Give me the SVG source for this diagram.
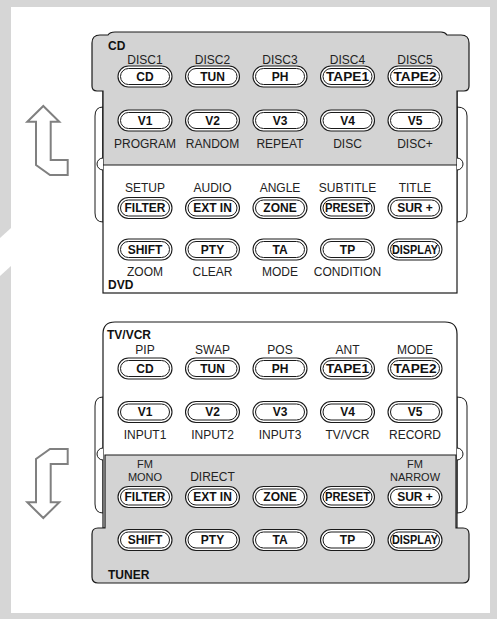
<svg xmlns="http://www.w3.org/2000/svg" width="497" height="619" viewBox="0 0 497 619">
<style>
.frame{fill:#d6d6d6}
.body{fill:#fff;stroke:#1a1a1a;stroke-width:1.2}
.gray{fill:#d3d3d3;stroke:#1a1a1a;stroke-width:1.2}
.brk{fill:#fff;stroke:#1a1a1a;stroke-width:1}
.po{fill:#fff;stroke:#1a1a1a;stroke-width:1.1}
.pi{fill:#fff;stroke:#1a1a1a;stroke-width:1}
.bt{font-family:"Liberation Sans",Arial,sans-serif;font-weight:bold;font-size:12px;fill:#111;text-anchor:middle}
.lb{font-family:"Liberation Sans",Arial,sans-serif;font-size:12px;fill:#222;text-anchor:middle}
.sm{font-family:"Liberation Sans",Arial,sans-serif;font-size:11px;fill:#222;text-anchor:middle}
.hd{font-family:"Liberation Sans",Arial,sans-serif;font-weight:bold;font-size:12px;fill:#111}
.arw{fill:#fff;stroke:#808080;stroke-width:2;stroke-linejoin:miter}
</style>
<defs>
<g id="pill">
<rect class="po" x="-27" y="-10.5" width="54" height="21" rx="10.5"/>
<rect class="pi" x="-24.5" y="-8" width="49" height="16" rx="8"/>
</g>
</defs>
<rect width="497" height="619" fill="#fff"/>
<!-- page frame -->
<g id="frame">
<rect class="frame" x="0" y="0" width="497" height="7"/>
<rect class="frame" x="490" y="0" width="7" height="619"/>
<rect class="frame" x="0" y="613" width="497" height="6"/>
<polygon class="frame" points="0,0 11,0 11,228 0,238"/>
<polygon class="frame" points="0,276 11,266 11,619 0,619"/>
</g>
<!-- arrows -->
<g id="arrow-up">
<polygon class="arw" points="43.3,106 59.3,121.7 50.7,121.7 50.7,160 67.7,160 67.7,175 50,175 36,165 36,121.7 27.3,121.7"/>
</g>
<g id="arrow-down" transform="translate(0,624) scale(1,-1)">
<polygon class="arw" points="43.3,106 59.3,121.7 50.7,121.7 50.7,160 67.7,160 67.7,175 50,175 36,165 36,121.7 27.3,121.7"/>
</g>
<!-- top remote CD/DVD -->
<g id="remote-top">
<path class="brk" d="M103,107 Q95,107 95,116 L95,213 Q95,222 103,222 Z"/>
<path class="brk" d="M457,107 Q467,107 467,116 L467,213 Q467,222 457,222 Z"/>
<rect class="body" x="103" y="91" width="354" height="202"/>
<path class="gray" d="M92,86 L92,43 Q92,35 100,35 L108,35 Q110,32 115,32 L441,32 Q445,32 447,35 L461,35 Q469,35 469,43 L469,86 Q469,91 464,91 L457,91 L457,165 L103,165 L103,91 L97,91 Q92,91 92,86 Z"/>
<path class="brk" d="M103,158 A6,6 0 0 0 103,170"/>
<path class="brk" d="M457,158 A6,6 0 0 1 457,170"/>
<text class="hd" x="108" y="50">CD</text>
<text class="hd" x="108" y="289">DVD</text>
</g>
<!-- bottom remote TV/VCR / TUNER -->
<g id="remote-bottom">
<path class="brk" d="M103,397 Q95,397 95,406 L95,504 Q95,513 103,513 Z"/>
<path class="brk" d="M457,397 Q467,397 467,406 L467,504 Q467,513 457,513 Z"/>
<path class="body" d="M103,528 L103,334 Q103,322 115,322 L445,322 Q457,322 457,334 L457,528 Z"/>
<path class="gray" d="M105,455 L456,455 L456,528 L463,528 Q469,528 469,534 L469,577 Q469,583 463,583 L98,583 Q92,583 92,577 L92,534 Q92,528 98,528 L105,528 Z"/>
<path class="brk" d="M103,448 A6,6 0 0 0 103,460"/>
<path class="brk" d="M457,448 A6,6 0 0 1 457,460"/>
<text class="hd" x="107" y="339">TV/VCR</text>
<text class="hd" x="108" y="579">TUNER</text>
</g>
<!-- top buttons -->
<g id="top-labels">
<text class="lb" x="145" y="64">DISC1</text><text class="lb" x="212.5" y="64">DISC2</text><text class="lb" x="280" y="64">DISC3</text><text class="lb" x="347.5" y="64">DISC4</text><text class="lb" x="415" y="64">DISC5</text>
<text class="lb" x="145" y="148">PROGRAM</text><text class="lb" x="212.5" y="148">RANDOM</text><text class="lb" x="280" y="148">REPEAT</text><text class="lb" x="347.5" y="148">DISC</text><text class="lb" x="415" y="148">DISC+</text>
<text class="lb" x="145" y="192">SETUP</text><text class="lb" x="212.5" y="192">AUDIO</text><text class="lb" x="280" y="192">ANGLE</text><text class="lb" x="347.5" y="192">SUBTITLE</text><text class="lb" x="415" y="192">TITLE</text>
<text class="lb" x="145" y="276">ZOOM</text><text class="lb" x="212.5" y="276">CLEAR</text><text class="lb" x="280" y="276">MODE</text><text class="lb" x="347.5" y="276">CONDITION</text>
</g>
<g id="btn-t-cd" transform="translate(145,76.5)"><use href="#pill"/><text class="bt" y="4.3">CD</text></g>
<g id="btn-t-tun" transform="translate(212.5,76.5)"><use href="#pill"/><text class="bt" y="4.3">TUN</text></g>
<g id="btn-t-ph" transform="translate(280,76.5)"><use href="#pill"/><text class="bt" y="4.3">PH</text></g>
<g id="btn-t-tape1" transform="translate(347.5,76.5)"><use href="#pill"/><text class="bt" y="4.3" textLength="43" lengthAdjust="spacingAndGlyphs">TAPE1</text></g>
<g id="btn-t-tape2" transform="translate(415,76.5)"><use href="#pill"/><text class="bt" y="4.3" textLength="43" lengthAdjust="spacingAndGlyphs">TAPE2</text></g>
<g id="btn-t-v1" transform="translate(145,120.5)"><use href="#pill"/><text class="bt" y="4.3">V1</text></g>
<g id="btn-t-v2" transform="translate(212.5,120.5)"><use href="#pill"/><text class="bt" y="4.3">V2</text></g>
<g id="btn-t-v3" transform="translate(280,120.5)"><use href="#pill"/><text class="bt" y="4.3">V3</text></g>
<g id="btn-t-v4" transform="translate(347.5,120.5)"><use href="#pill"/><text class="bt" y="4.3">V4</text></g>
<g id="btn-t-v5" transform="translate(415,120.5)"><use href="#pill"/><text class="bt" y="4.3">V5</text></g>
<g id="btn-t-filter" transform="translate(145,208)"><use href="#pill"/><text class="bt" y="4.3" textLength="41" lengthAdjust="spacingAndGlyphs">FILTER</text></g>
<g id="btn-t-extin" transform="translate(212.5,208)"><use href="#pill"/><text class="bt" y="4.3">EXT IN</text></g>
<g id="btn-t-zone" transform="translate(280,208)"><use href="#pill"/><text class="bt" y="4.3">ZONE</text></g>
<g id="btn-t-preset" transform="translate(347.5,208)"><use href="#pill"/><text class="bt" y="4.3" textLength="45" lengthAdjust="spacingAndGlyphs">PRESET</text></g>
<g id="btn-t-sur" transform="translate(415,208)"><use href="#pill"/><text class="bt" y="4.3">SUR +</text></g>
<g id="btn-t-shift" transform="translate(145,249.5)"><use href="#pill"/><text class="bt" y="4.3">SHIFT</text></g>
<g id="btn-t-pty" transform="translate(212.5,249.5)"><use href="#pill"/><text class="bt" y="4.3">PTY</text></g>
<g id="btn-t-ta" transform="translate(280,249.5)"><use href="#pill"/><text class="bt" y="4.3">TA</text></g>
<g id="btn-t-tp" transform="translate(347.5,249.5)"><use href="#pill"/><text class="bt" y="4.3">TP</text></g>
<g id="btn-t-display" transform="translate(415,249.5)"><use href="#pill"/><text class="bt" y="4.3" textLength="46" lengthAdjust="spacingAndGlyphs">DISPLAY</text></g>
<!-- bottom buttons -->
<g id="bottom-labels">
<text class="lb" x="145" y="353.5">PIP</text><text class="lb" x="212.5" y="353.5">SWAP</text><text class="lb" x="280" y="353.5">POS</text><text class="lb" x="347.5" y="353.5">ANT</text><text class="lb" x="415" y="353.5">MODE</text>
<text class="lb" x="145" y="439">INPUT1</text><text class="lb" x="212.5" y="439">INPUT2</text><text class="lb" x="280" y="439">INPUT3</text><text class="lb" x="347.5" y="439">TV/VCR</text><text class="lb" x="415" y="439">RECORD</text>
<text class="sm" x="145" y="468">FM</text><text class="sm" x="145" y="481">MONO</text>
<text class="lb" x="212.5" y="481">DIRECT</text>
<text class="sm" x="415" y="468">FM</text><text class="sm" x="415" y="481">NARROW</text>
</g>
<g id="btn-b-cd" transform="translate(145,368.5)"><use href="#pill"/><text class="bt" y="4.3">CD</text></g>
<g id="btn-b-tun" transform="translate(212.5,368.5)"><use href="#pill"/><text class="bt" y="4.3">TUN</text></g>
<g id="btn-b-ph" transform="translate(280,368.5)"><use href="#pill"/><text class="bt" y="4.3">PH</text></g>
<g id="btn-b-tape1" transform="translate(347.5,368.5)"><use href="#pill"/><text class="bt" y="4.3" textLength="43" lengthAdjust="spacingAndGlyphs">TAPE1</text></g>
<g id="btn-b-tape2" transform="translate(415,368.5)"><use href="#pill"/><text class="bt" y="4.3" textLength="43" lengthAdjust="spacingAndGlyphs">TAPE2</text></g>
<g id="btn-b-v1" transform="translate(145,412)"><use href="#pill"/><text class="bt" y="4.3">V1</text></g>
<g id="btn-b-v2" transform="translate(212.5,412)"><use href="#pill"/><text class="bt" y="4.3">V2</text></g>
<g id="btn-b-v3" transform="translate(280,412)"><use href="#pill"/><text class="bt" y="4.3">V3</text></g>
<g id="btn-b-v4" transform="translate(347.5,412)"><use href="#pill"/><text class="bt" y="4.3">V4</text></g>
<g id="btn-b-v5" transform="translate(415,412)"><use href="#pill"/><text class="bt" y="4.3">V5</text></g>
<g id="btn-b-filter" transform="translate(145,497)"><use href="#pill"/><text class="bt" y="4.3" textLength="41" lengthAdjust="spacingAndGlyphs">FILTER</text></g>
<g id="btn-b-extin" transform="translate(212.5,497)"><use href="#pill"/><text class="bt" y="4.3">EXT IN</text></g>
<g id="btn-b-zone" transform="translate(280,497)"><use href="#pill"/><text class="bt" y="4.3">ZONE</text></g>
<g id="btn-b-preset" transform="translate(347.5,497)"><use href="#pill"/><text class="bt" y="4.3" textLength="45" lengthAdjust="spacingAndGlyphs">PRESET</text></g>
<g id="btn-b-sur" transform="translate(415,497)"><use href="#pill"/><text class="bt" y="4.3">SUR +</text></g>
<g id="btn-b-shift" transform="translate(145,540)"><use href="#pill"/><text class="bt" y="4.3">SHIFT</text></g>
<g id="btn-b-pty" transform="translate(212.5,540)"><use href="#pill"/><text class="bt" y="4.3">PTY</text></g>
<g id="btn-b-ta" transform="translate(280,540)"><use href="#pill"/><text class="bt" y="4.3">TA</text></g>
<g id="btn-b-tp" transform="translate(347.5,540)"><use href="#pill"/><text class="bt" y="4.3">TP</text></g>
<g id="btn-b-display" transform="translate(415,540)"><use href="#pill"/><text class="bt" y="4.3" textLength="46" lengthAdjust="spacingAndGlyphs">DISPLAY</text></g>
</svg>
